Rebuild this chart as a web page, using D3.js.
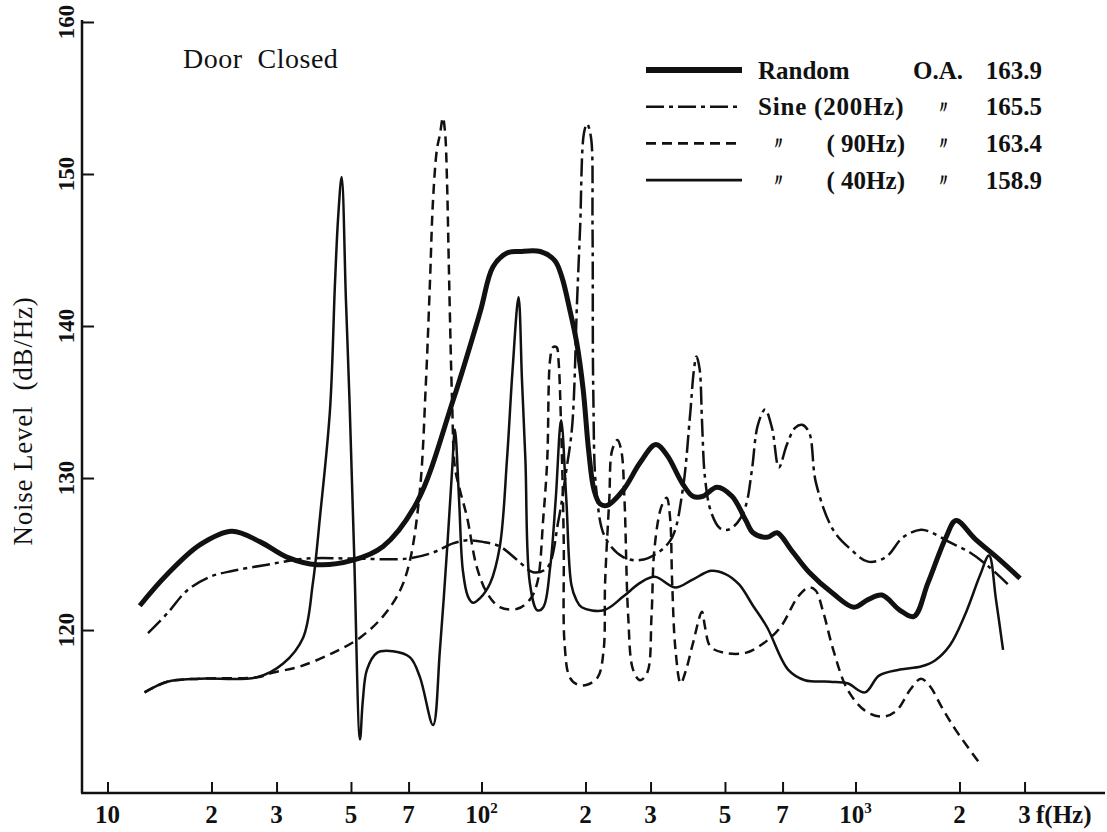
<!DOCTYPE html>
<html>
<head>
<meta charset="utf-8">
<script src="https://cdn.jsdelivr.net/npm/d3@7"></script>
<style>
  body { margin: 0; background: #fff; }
  svg { display: block; background: #fff; }
  text { font-family: "Liberation Serif", "Times New Roman", serif; fill: #111; white-space: pre; }
</style>
</head>
<body>
<svg id="chart" width="1107" height="832"></svg>
<script>
// ---- data: [frequency Hz, noise level dB/Hz] ----
const random = [[12.4,121.6],[14.8,123.6],[18.5,125.6],[22.7,126.5],[27.1,125.8],[32.2,124.8],[39.6,124.3],[50.6,124.6],[60.3,125.5],[72.9,128.4],[87,135.1],[99.3,140.9],[108,143.9],[118.5,144.8],[129,144.9],[148,144.9],[163,144.3],[171,143.2],[180,141.1],[189,138.8],[197,135.8],[204,131.8],[211,129.2],[219,128.3],[229,128.2],[253,129.2],[281,131.0],[311,132.2],[336,131.5],[372,129.7],[401,128.8],[430,128.8],[473,129.4],[521,128.8],[565,127.2],[589,126.4],[639,126.1],[678,126.4],[729,125.3],[797,123.8],[896,122.4],[993,121.5],[1087,122.0],[1193,122.3],[1345,121.3],[1477,120.9],[1621,123.1],[1828,126.1],[1954,127.2],[2203,126.0],[2575,124.6],[2916,123.4]];

const sine200 = [[13.1,119.8],[14.9,121.1],[17.0,122.6],[19.8,123.5],[22.9,123.9],[28.3,124.3],[37.0,124.7],[50.6,124.7],[69.3,124.7],[78.9,125.1],[87.0,125.7],[93.2,125.9],[101,125.8],[113,125.5],[127,124.6],[141,123.8],[155,124.1],[167,127.2],[176,130.5],[183,133.4],[189,141.5],[193,146.5],[198,152.7],[202,153.3],[207,152.4],[209,146.5],[210,135.6],[214,129.2],[226,126.1],[253,124.8],[281,124.6],[316,125.1],[348,126.1],[374,129.2],[393,134.0],[404,137.1],[411,138.0],[420,137.2],[427,133.8],[436,130.0],[454,127.8],[483,126.7],[509,126.6],[539,127.1],[565,128.2],[585,130.5],[606,133.5],[632,134.5],[658,133.3],[685,130.7],[715,132.2],[744,133.3],[770,133.5],[797,133.0],[824,129.7],[896,126.6],[978,125.3],[1087,124.5],[1225,124.8],[1372,126.1],[1547,126.6],[1665,126.4],[1865,125.8],[2135,125.1],[2419,124.1],[2707,123.0]];

const sine90 = [[12.8,115.9],[14.9,116.6],[18.5,116.8],[26.6,116.9],[29.4,117.2],[35.2,117.6],[44.2,118.5],[52.7,119.5],[60.3,120.9],[66.6,122.6],[70.5,124.6],[74.0,129.2],[76.2,136.3],[77.7,142.8],[78.9,148.3],[80.4,151.6],[81.6,152.6],[82.8,153.7],[83.7,152.7],[84.5,149.4],[85.1,145.0],[85.7,140.6],[86.6,135.1],[87.8,130.7],[90.0,129.2],[93.2,127.4],[97.8,124.1],[104,122.4],[113,121.5],[127,121.4],[138,122.0],[145,123.1],[151,127.4],[155,131.2],[158,137.8],[161,138.6],[165,138.6],[167,137.8],[170,133.4],[173,125.9],[174,119.1],[180,116.9],[190,116.4],[202,116.4],[216,116.9],[224,118.7],[226,123.1],[232,128.6],[236,131.8],[244,132.5],[250,131.8],[255,128.6],[261,120.9],[269,117.4],[281,116.7],[294,117.2],[302,120.9],[308,125.3],[323,128.1],[335,128.7],[343,127.4],[348,123.1],[356,118.7],[369,116.5],[383,117.4],[401,119.1],[427,121.2],[436,120.2],[453,118.9],[499,118.5],[564,118.5],[624,119.1],[692,120.2],[755,122.2],[796,122.8],[823,122.6],[852,121.3],[897,118.7],[961,116.1],[1065,114.7],[1197,114.3],[1314,114.7],[1443,116.1],[1547,116.8],[1643,116.3],[1780,114.9],[1954,113.4],[2258,111.3]];

const sine40 = [[12.8,115.9],[14.9,116.6],[18.5,116.8],[26.6,116.9],[31.4,117.8],[36.0,119.5],[38.5,123.1],[40.4,127.4],[43.3,134.5],[44.8,142.8],[45.8,147.2],[46.9,149.8],[48.3,141.7],[49.5,135.1],[50.9,125.3],[52.7,112.8],[53.6,115.4],[54.9,117.4],[58.2,118.5],[63.9,118.6],[70.5,118.2],[74.0,116.9],[78.9,113.75],[81.6,118.7],[84.5,125.3],[86.6,130.5],[87.8,133.2],[89.6,128.6],[91.3,123.9],[93.6,122.2],[95.9,121.8],[99.3,122.1],[106,123.1],[113,125.5],[118.5,131.2],[123,137.1],[128,141.9],[131,136.4],[134,131.2],[138,123.1],[145,121.3],[151,121.5],[158,124.1],[164,128.6],[170,133.8],[176,128.6],[182,123.0],[188,122.0],[195,121.5],[224,121.3],[253,122.2],[281,123.1],[309,123.5],[355,122.8],[399,123.3],[454,123.9],[500,123.7],[543,123.0],[589,121.6],[639,120.2],[719,117.4],[781,116.7],[883,116.6],[961,116.5],[1065,115.9],[1170,117.0],[1345,117.4],[1547,117.6],[1699,118.0],[1877,119.0],[2070,121.0],[2273,123.6],[2404,124.9],[2511,122.0],[2624,118.7]];

const yTicks = [120, 130, 140, 150, 160];
const xTicks = [10, 20, 30, 50, 70, 100, 200, 300, 500, 700, 1000, 2000, 3000];
const xTickLabels = ["10", "2", "3", "5", "7", "10|2", "2", "3", "5", "7", "10|3", "2", "3"];

const legendNames = ["Random", "Sine (200Hz)", "( 90Hz)", "( 40Hz)"];
const legendOA = ["163.9", "165.5", "163.4", "158.9"];

// ---- layout ----
const svg = d3.select("#chart");
const axisX0 = 82, axisY0 = 793, axisRight = 1105, axisTop = 20;

// the printed log paper places 2, 3, 5, 7 a bit left of a true log spacing
const decades = [10, 100, 1000];
const mantissa = [1, 2, 3, 5, 7];
const mantissaPos = [0, 0.278, 0.452, 0.651, 0.805];
const x10 = 107.5, decadeW = 374;
const xDomain = [], xRange = [];
decades.forEach((dec, i) => mantissa.forEach((m, j) => {
  xDomain.push(dec * m);
  xRange.push(x10 + decadeW * (i + mantissaPos[j]));
}));
const x = d3.scaleLog().domain(xDomain).range(xRange);
const y = d3.scaleLinear().domain([109.28, 160.13]).range([axisY0, axisTop]);

// axes
svg.append("line").attr("x1", axisX0).attr("x2", axisX0).attr("y1", axisTop).attr("y2", axisY0)
  .attr("stroke", "#111").attr("stroke-width", 2.5);
svg.append("line").attr("x1", axisX0 - 1).attr("x2", axisRight).attr("y1", axisY0).attr("y2", axisY0)
  .attr("stroke", "#111").attr("stroke-width", 2.5);

const yAxis = svg.append("g").attr("transform", `translate(${axisX0},0)`)
  .call(d3.axisRight(y).tickValues(yTicks).tickSize(12).tickSizeOuter(0).tickFormat(() => ""));
yAxis.select(".domain").remove();
yAxis.selectAll("line").attr("stroke", "#111").attr("stroke-width", 2);

const xAxis = svg.append("g").attr("transform", `translate(0,${axisY0})`)
  .call(d3.axisTop(x).tickValues(xTicks).tickSize(11).tickSizeOuter(0).tickFormat(() => ""));
xAxis.select(".domain").remove();
xAxis.selectAll("line").attr("stroke", "#111").attr("stroke-width", 2);

// tick labels
svg.selectAll(".ylab").data(yTicks).join("text")
  .attr("class", "ylab")
  .attr("transform", d => `translate(66,${y(d)}) rotate(-90)`)
  .attr("text-anchor", "middle").attr("dy", "0.35em")
  .attr("font-size", 23).attr("font-weight", "bold")
  .text(d => d);

const xl = svg.selectAll(".xlab").data(xTicks).join("text")
  .attr("class", "xlab")
  .attr("x", d => x(d)).attr("y", 823)
  .attr("text-anchor", "middle")
  .attr("font-size", 25).attr("font-weight", "bold");
xl.each(function (d, i) {
  const parts = xTickLabels[i].split("|");
  const t = d3.select(this);
  t.append("tspan").text(parts[0]);
  if (parts[1]) t.append("tspan").attr("dy", -10).attr("font-size", 15).text(parts[1]);
});
svg.append("text").attr("x", 1036).attr("y", 823)
  .attr("font-size", 25).attr("font-weight", "bold").text("f(Hz)");

svg.append("text")
  .attr("transform", "translate(23,421) rotate(-90)")
  .attr("text-anchor", "middle").attr("dy", "0.35em")
  .attr("font-size", 27).attr("letter-spacing", 0.8)
  .text("Noise Level  (dB/Hz)");

svg.append("text").attr("x", 183).attr("y", 68)
  .attr("font-size", 28).attr("letter-spacing", 0.5).text("Door  Closed");

// ---- curves ----
const styles = [
  { data: random, width: 5, dash: null },
  { data: sine200, width: 2.5, dash: "18,5,4,5" },
  { data: sine90, width: 2.5, dash: "10,6" },
  { data: sine40, width: 2.5, dash: null }
];
const line = d3.line()
  .x(d => x(d[0])).y(d => y(d[1]))
  .curve(d3.curveCatmullRom.alpha(0.5));

svg.append("g").selectAll("path").data(styles).join("path")
  .attr("d", s => line(s.data))
  .attr("fill", "none").attr("stroke", "#111")
  .attr("stroke-width", s => s.width)
  .attr("stroke-dasharray", s => s.dash)
  .attr("stroke-linejoin", "round");

// ---- legend ----
const lg = svg.append("g");
const rowY = i => 70 + i * 36.7;
styles.forEach((s, i) => {
  lg.append("line").attr("x1", 646).attr("x2", 742).attr("y1", rowY(i)).attr("y2", rowY(i))
    .attr("stroke", "#111").attr("stroke-width", i === 0 ? 6 : 2.6)
    .attr("stroke-dasharray", s.dash);
});
const txt = (xp, yp, str, anchor) => lg.append("text")
  .attr("x", xp).attr("y", yp).attr("dy", "0.35em")
  .attr("text-anchor", anchor || "start")
  .attr("font-size", 25).attr("font-weight", "bold").text(str);
const ditto = (xp, yp) => lg.append("text")
  .attr("x", xp).attr("y", yp).attr("dy", "0.35em").attr("text-anchor", "middle")
  .attr("font-family", "Noto Sans CJK JP").attr("font-size", 17).attr("font-weight", "bold")
  .text("\u3003");

txt(758, rowY(0), legendNames[0]);
txt(758, rowY(1), legendNames[1]).attr("letter-spacing", 0.8);
txt(905, rowY(2), legendNames[2], "end");
txt(905, rowY(3), legendNames[3], "end");
ditto(778, rowY(2));
ditto(778, rowY(3));
txt(963, rowY(0), "O.A.", "end");
[1, 2, 3].forEach(i => ditto(943, rowY(i)));
legendOA.forEach((v, i) => txt(1042, rowY(i), v, "end"));
</script>
</body>
</html>
